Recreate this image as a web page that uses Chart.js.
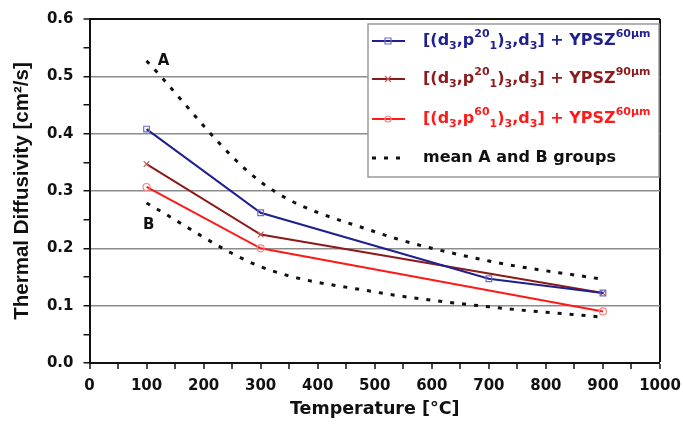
<!DOCTYPE html>
<html>
<head>
<meta charset="utf-8">
<script src="https://cdn.jsdelivr.net/npm/chart.js@4.4.0/dist/chart.umd.min.js"></script>
<style>
  html, body { margin: 0; padding: 0; background: #fff; }
  #chart { display: block; }
</style>
</head>
<body>
<canvas id="chart" width="683" height="426"></canvas>
<script>
// temperatures [°C] and measured diffusivity values [cm²/s]
const temps = [100, 300, 700, 900];
const blueVals = [0.408, 0.262, 0.147, 0.122];
const brownTemps = [100, 300, 900];
const brownVals = [0.347, 0.224, 0.122];
const redTemps = [100, 300, 900];
const redVals = [0.307, 0.200, 0.090];

// mean of group A (upper) and group B (lower)
const meanTemps = [100, 300, 500, 700, 900];
const groupA = [0.527, 0.316, 0.229, 0.178, 0.146];
const groupB = [0.279, 0.168, 0.124, 0.098, 0.080];

// axis ticks
const xTicks = [0, 100, 200, 300, 400, 500, 600, 700, 800, 900, 1000];
const yTicks = [0.0, 0.1, 0.2, 0.3, 0.4, 0.5, 0.6];

// group labels placed in data coordinates
const groupLabels = [
  { text: "A", x: 130, y: 0.527 },
  { text: "B", x: 104, y: 0.24 }
];

const FONT = "'DejaVu Sans', Arial, sans-serif";
const ARIAL = "'Liberation Sans', Arial, sans-serif";

const toPoints = (xs, ys) => xs.map((x, i) => ({ x: x, y: ys[i] }));

// legend rows: pieces of text, "n" normal, "b" subscript, "p" superscript
const legendRows = [
  { color: "#1f1f8f", marker: "rect", mcolor: "#6b6bd0", dash: false,
    parts: [["[(d","n"],["3","b"],[",p","n"],["20","p"],["1","b"],[")","n"],["3","b"],[",d","n"],["3","b"],["] + YPSZ","n"],["60µm","p"]] },
  { color: "#8b1a1a", marker: "star", mcolor: "#c06060", dash: false,
    parts: [["[(d","n"],["3","b"],[",p","n"],["20","p"],["1","b"],[")","n"],["3","b"],[",d","n"],["3","b"],["] + YPSZ","n"],["90µm","p"]] },
  { color: "#ff1a1a", marker: "circle", mcolor: "#ff8080", dash: false,
    parts: [["[(d","n"],["3","b"],[",p","n"],["60","p"],["1","b"],[")","n"],["3","b"],[",d","n"],["3","b"],["] + YPSZ","n"],["60µm","p"]] },
  { color: "#111", marker: null, dash: true,
    parts: [["mean A and B groups","n"]] }
];

const legendPlugin = {
  id: "richLegend",
  afterDraw(chart) {
    const c = chart.ctx;
    const area = chart.chartArea;
    const bx = area.right - 292, by = area.top + 5, bw = 291, bh = 153;
    c.save();
    c.fillStyle = "#fff";
    c.fillRect(bx, by, bw, bh);
    c.strokeStyle = "#9a9a9a";
    c.lineWidth = 1.5;
    c.strokeRect(bx, by, bw, bh);
    const rowY = [by + 17, by + 55, by + 95, by + 134];
    legendRows.forEach((row, i) => {
      const y = rowY[i];
      c.strokeStyle = row.color;
      c.lineWidth = row.dash ? 3 : 2;
      c.setLineDash(row.dash ? [4, 8] : []);
      c.beginPath();
      c.moveTo(bx + 4, y);
      c.lineTo(bx + 37, y);
      c.stroke();
      c.setLineDash([]);
      if (row.marker) {
        c.strokeStyle = row.mcolor;
        c.lineWidth = 1.2;
        const mx = bx + 20;
        c.beginPath();
        if (row.marker === "rect") c.rect(mx - 3, y - 3, 6, 6);
        else if (row.marker === "circle") c.arc(mx, y, 3, 0, Math.PI * 2);
        else { c.moveTo(mx - 3, y - 3); c.lineTo(mx + 3, y + 3); c.moveTo(mx - 3, y + 3); c.lineTo(mx + 3, y - 3); }
        c.stroke();
      }
      let tx = bx + 55;
      c.fillStyle = row.color;
      c.textBaseline = "middle";
      row.parts.forEach(([t, kind]) => {
        let dy = 0;
        if (kind === "n") c.font = "bold 16px " + FONT;
        else { c.font = "bold 11px " + FONT; dy = kind === "p" ? -7 : 5; }
        c.fillText(t, tx, y + dy);
        tx += c.measureText(t).width;
      });
    });
    // A / B group labels
    c.fillStyle = "#111";
    c.font = "bold 15px " + FONT;
    c.textAlign = "center";
    groupLabels.forEach(l => {
      c.fillText(l.text, chart.scales.x.getPixelForValue(l.x), chart.scales.y.getPixelForValue(l.y));
    });
    c.restore();
  }
};

const isMultiple = (v, step) => Math.abs(Math.round(v / step) * step - v) < 1e-6;

new Chart(document.getElementById("chart"), {
  type: "line",
  data: {
    datasets: [
      { data: toPoints(temps, blueVals), borderColor: "#1f1f8f", borderWidth: 2,
        pointStyle: "rect", pointRadius: 4, pointBorderColor: "#6b6bd0", pointBackgroundColor: "transparent", pointBorderWidth: 1.2, order: 1 },
      { data: toPoints(brownTemps, brownVals), borderColor: "#8b1a1a", borderWidth: 2,
        pointStyle: "crossRot", pointRadius: 4, pointBorderColor: "#c06060", pointBorderWidth: 1.2, order: 2 },
      { data: toPoints(redTemps, redVals), borderColor: "#ff1a1a", borderWidth: 2,
        pointStyle: "circle", pointRadius: 3.5, pointBorderColor: "#ff8080", pointBackgroundColor: "transparent", pointBorderWidth: 1.2, order: 3 },
      { data: toPoints(meanTemps, groupA), borderColor: "#111", borderWidth: 3, borderDash: [4, 8],
        pointRadius: 0, cubicInterpolationMode: "monotone", order: 4 },
      { data: toPoints(meanTemps, groupB), borderColor: "#111", borderWidth: 3, borderDash: [4, 8],
        pointRadius: 0, cubicInterpolationMode: "monotone", order: 5 }
    ]
  },
  options: {
    responsive: false,
    animation: false,
    layout: { padding: { top: 19, right: 23, left: 0, bottom: 0 } },
    plugins: { legend: { display: false }, tooltip: { enabled: false } },
    scales: {
      x: {
        type: "linear", min: 0, max: 1000,
        afterFit: s => { s.height = 63; s.paddingLeft = 0; s.paddingRight = 0; },
        afterBuildTicks: s => { s.ticks = []; for (let v = 0; v <= 1000; v += 50) s.ticks.push({ value: v }); },
        ticks: {
          color: "#111", font: { family: FONT, weight: "bold", size: 15 }, padding: 8, maxRotation: 0, autoSkip: false,
          callback: v => xTicks.includes(v) ? String(v) : ""
        },
        grid: {
          drawOnChartArea: true, tickLength: 6, tickColor: "#111", tickWidth: 1.5,
          color: ctx => ctx.tick && ctx.tick.value === 1000 ? "#111" : "transparent",
          lineWidth: ctx => ctx.tick && ctx.tick.value === 1000 ? 2 : 0
        },
        border: { color: "#111", width: 2 },
        title: { display: true, text: "Temperature [°C]", color: "#111", font: { family: FONT, weight: "bold", size: 17.5 }, padding: { top: 0, bottom: 6 } }
      },
      y: {
        min: 0, max: 0.6,
        afterFit: s => { s.width = 89.5; s.paddingTop = 0; s.paddingBottom = 0; },
        afterBuildTicks: s => { s.ticks = []; for (let i = 0; i <= 12; i++) s.ticks.push({ value: i * 0.05 }); },
        ticks: {
          color: "#111", font: { family: FONT, weight: "bold", size: 15 }, padding: 10, autoSkip: false,
          callback: v => { const t = yTicks.find(y => Math.abs(y - v) < 1e-6); return t === undefined ? "" : t.toFixed(1); }
        },
        grid: {
          drawOnChartArea: true, tickLength: 6, tickColor: "#111", tickWidth: 1.5,
          color: ctx => {
            if (!ctx.tick) return "transparent";
            const v = ctx.tick.value;
            if (Math.abs(v - 0.6) < 1e-6) return "#111";
            if (v > 0.01 && isMultiple(v, 0.1)) return "#8c8c8c";
            return "transparent";
          },
          lineWidth: ctx => ctx.tick && Math.abs(ctx.tick.value - 0.6) < 1e-6 ? 2 : 1.5
        },
        border: { color: "#111", width: 2 },
        title: { display: true, text: "Thermal Diffusivity [cm²/s]", color: "#111", font: { family: ARIAL, weight: "bold", size: 20.5 }, padding: { top: 10, bottom: 2 } }
      }
    }
  },
  plugins: [legendPlugin]
});
</script>
</body>
</html>
